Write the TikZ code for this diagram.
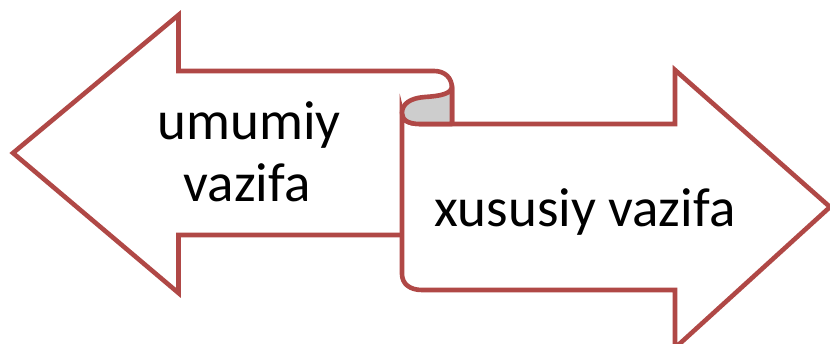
\documentclass[tikz,border=0pt]{standalone}
\usepackage{fontspec}
\setmainfont{Carlito}
\definecolor{arrowred}{RGB}{176,72,70}
\definecolor{curlgray}{RGB}{205,205,205}
\tikzset{
  arrowshape/.style={draw=arrowred, line width=4.6pt, fill=white, line join=miter},
  curlshape/.style={draw=arrowred, line width=4.6pt, fill=curlgray, line join=round},
  label/.style={font=\fontsize{55}{62}\selectfont, text=black, anchor=base, inner sep=0pt}
}
\begin{document}
\begin{tikzpicture}[x=1pt, y=-1pt]
  \useasboundingbox (0,0) rectangle (830,344);
  % arrow pointing left, its shaft rolled under at the right end
  \draw[arrowshape] (13,153) -- (178.5,15) -- (178.5,71) -- (434,71)
    .. controls (445,71) and (452,78) .. (452,88)
    -- (452,124) -- (403,124) -- (403,235) -- (178.5,235) -- (178.5,293) -- cycle;
  % arrow pointing right, drawn in front
  \draw[arrowshape] (402,113) -- (402,274)
    .. controls (402,284) and (410,290) .. (422,290)
    -- (675,290) -- (675,348) -- (830,207) -- (675,70) -- (675,124)
    -- (420,124) .. controls (408,124) and (402,120) .. (402,113) -- cycle;
  % the rolled-over fold between the two arrows
  \draw[curlshape] (452,86)
    .. controls (452,94) and (440,96) .. (425,97)
    .. controls (410,98) and (402,104) .. (402,113)
    .. controls (402,120) and (408,124) .. (420,124)
    -- (452,124) -- cycle;
  \node[label] (umumiy) at (249,140) {umumiy};
  \node[label] (vazifaA) at (247,202) {vazifa};
  \node[label] (xususiy) at (585,227) {xususiy vazifa};
\end{tikzpicture}
\end{document}
